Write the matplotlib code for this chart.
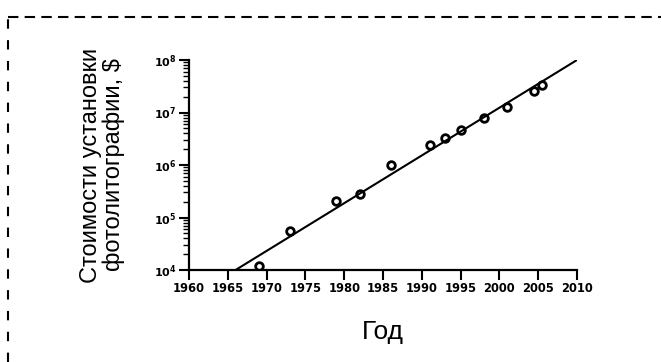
import math
import matplotlib.pyplot as plt
from matplotlib.ticker import FixedLocator, LogLocator, FuncFormatter, NullFormatter

# data
years = [1969, 1973, 1979, 1982, 1986, 1991, 1993, 1995, 1998, 2001, 2004.4, 2005.5]
costs = [1.2e4, 5.5e4, 2.1e5, 2.8e5, 1.0e6, 2.4e6, 3.3e6, 4.7e6, 8.0e6, 1.3e7, 2.6e7, 3.4e7]
fit_years = [1966, 2010]
fit_costs = [1e4, 1e8]
xticks = [1960, 1965, 1970, 1975, 1980, 1985, 1990, 1995, 2000, 2005, 2010]

plt.rcParams['font.family'] = ['Liberation Sans', 'DejaVu Sans']

W, H = 661, 362
fig = plt.figure(figsize=(W / 100, H / 100), dpi=100)

# dashed frame around the figure (only top and left visible)
fig.add_artist(plt.Line2D([8 / W, 8 / W], [0, 1 - 17 / H], transform=fig.transFigure,
                          color='black', lw=1.5, ls=(0, (4.5, 5.5))))
fig.add_artist(plt.Line2D([8 / W, 1], [1 - 17 / H, 1 - 17 / H], transform=fig.transFigure,
                          color='black', lw=1.5, ls=(0, (5, 3))))

ax = fig.add_axes([189 / W, 1 - 270 / H, (577 - 189) / W, (270 - 60) / H])

ax.plot(fit_years, fit_costs, color='black', lw=1.5, solid_capstyle='butt')
ax.plot(years, costs, 'o', ms=5.5, mfc='none', mec='black', mew=2)

ax.set_yscale('log')
ax.set_xlim(1960, 2010)
ax.set_ylim(1e4, 1e8)

ax.xaxis.set_major_locator(FixedLocator(xticks))
ax.yaxis.set_major_locator(LogLocator(base=10, numticks=10))
ax.yaxis.set_minor_locator(LogLocator(base=10, subs=range(2, 10), numticks=20))
ax.yaxis.set_minor_formatter(NullFormatter())
ax.yaxis.set_major_formatter(FuncFormatter(lambda v, p: r'$\mathbf{10^{%d}}$' % round(math.log10(v))))

ax.tick_params(axis='x', labelsize=8.3, length=7, width=1.5, pad=2)
ax.tick_params(axis='y', which='major', labelsize=8, length=7, width=1.5, pad=2)
ax.tick_params(axis='y', which='minor', length=4, width=1.0)
for lbl in ax.get_xticklabels():
    lbl.set_fontfamily('DejaVu Sans')
    lbl.set_fontweight('bold')

for s in ['top', 'right']:
    ax.spines[s].set_visible(False)
for s in ['left', 'bottom']:
    ax.spines[s].set_linewidth(1.6)

ax.set_xlabel('Год', fontsize=19, labelpad=18)
ax.set_ylabel('Стоимости установки\nфотолитографии, $', fontsize=17, labelpad=21,
              linespacing=1.0)

fig.savefig('out.png', dpi=100)
